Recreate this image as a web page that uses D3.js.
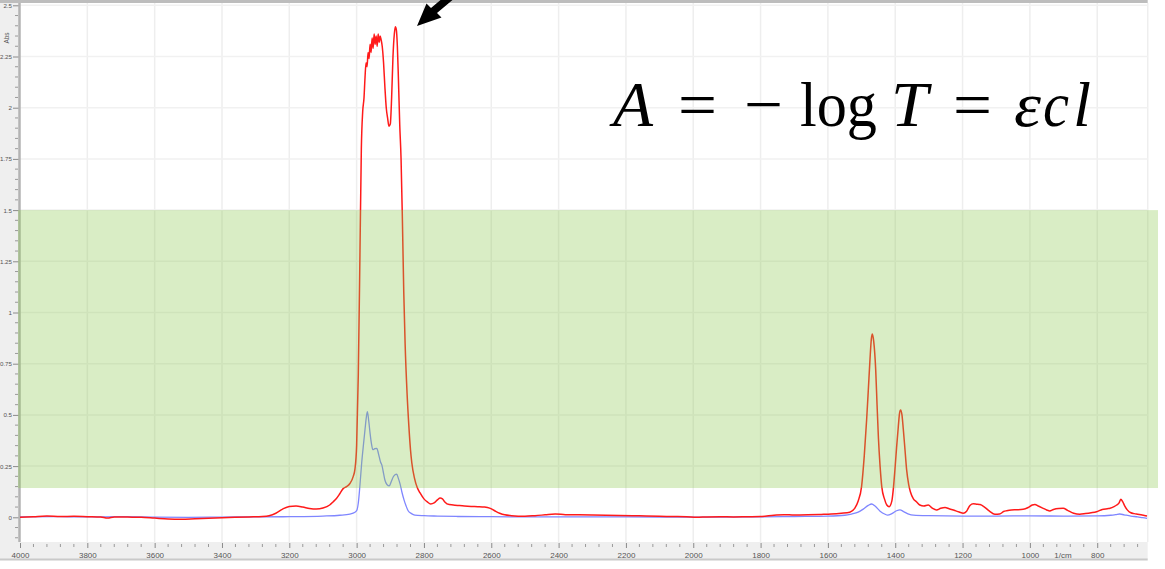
<!DOCTYPE html>
<html>
<head>
<meta charset="utf-8">
<script src="https://cdn.jsdelivr.net/npm/d3@7/dist/d3.min.js"></script>
<style>
  html, body { margin: 0; padding: 0; background: #ffffff; }
  svg { display: block; }
</style>
</head>
<body>
<svg id="chart" width="1165" height="569"></svg>
<script>
// ---------------- DATA ----------------
const xTickValues = [4000, 3800, 3600, 3400, 3200, 3000, 2800, 2600, 2400, 2200, 2000, 1800, 1600, 1400, 1200, 1000, 800];
const yTickValues = [0, 0.25, 0.5, 0.75, 1, 1.25, 1.5, 1.75, 2, 2.25, 2.5];
const yTickLabels = ["0", "0.25", "0.5", "0.75", "1", "1.25", "1.5", "1.75", "2", "2.25", "2.5"];
const bandRange = [0.143, 1.5];

const redWn = [4000,3960,3920,3880,3840,3800,3760,3740,3720,3680,3640,3600,3560,3520,3480,3440,3400,3360,3320,3280,3260,3240,3220,3200,3180,3160,3140,3120,3100,3080,3070,3060,3050,3040,3030,3020,3010,3005,3000,2995,2990,2986,2982,2978,2975,2972,2969,2966,2963,2960,2957,2954,2951,2948,2945,2942,2939,2936,2933,2930,2927,2924,2920,2916,2912,2908,2904,2900,2896,2892,2888,2885,2882,2879,2876,2872,2868,2864,2860,2856,2850,2845,2840,2836,2828,2820,2812,2800,2790,2780,2770,2760,2752,2745,2738,2725,2700,2680,2660,2640,2620,2605,2590,2575,2560,2540,2500,2470,2440,2410,2380,2340,2300,2260,2220,2180,2140,2100,2060,2020,1990,1960,1920,1880,1840,1800,1760,1730,1700,1660,1620,1590,1560,1535,1520,1510,1500,1492,1485,1480,1475,1471,1468,1464,1458,1454,1450,1445,1440,1432,1425,1418,1410,1405,1401,1396,1391,1387,1384,1380,1376,1371,1366,1360,1355,1346,1337,1327,1315,1302,1290,1277,1265,1252,1240,1225,1210,1198,1188,1178,1168,1158,1148,1135,1120,1104,1090,1078,1069,1055,1040,1020,1005,993,985,975,962,950,941,930,915,901,888,870,852,835,818,802,785,770,762,750,742,735,730,724,718,710,700,690,680,670,660,652];
const redAbs = [0.000,0.003,0.006,0.004,0.005,0.003,0.001,-0.004,0.002,0.001,0.000,-0.004,-0.008,-0.009,-0.007,-0.005,-0.002,0.000,0.002,0.004,0.008,0.020,0.040,0.053,0.055,0.050,0.043,0.040,0.045,0.060,0.075,0.092,0.115,0.140,0.150,0.165,0.200,0.235,0.35,0.70,1.30,1.80,1.98,2.05,2.15,2.22,2.20,2.27,2.24,2.31,2.27,2.34,2.29,2.36,2.31,2.35,2.30,2.36,2.32,2.35,2.33,2.30,2.22,2.10,2.00,1.95,1.91,1.92,2.05,2.25,2.36,2.395,2.38,2.30,2.15,1.92,1.75,1.45,1.10,0.85,0.60,0.45,0.33,0.265,0.19,0.145,0.12,0.09,0.075,0.065,0.07,0.085,0.094,0.09,0.075,0.062,0.058,0.055,0.053,0.052,0.050,0.045,0.032,0.020,0.012,0.008,0.005,0.008,0.012,0.016,0.013,0.012,0.011,0.010,0.009,0.008,0.006,0.005,0.004,0.003,0.000,0.002,0.003,0.002,0.003,0.004,0.010,0.013,0.011,0.012,0.014,0.016,0.020,0.025,0.045,0.08,0.15,0.30,0.475,0.62,0.77,0.87,0.895,0.86,0.72,0.55,0.39,0.25,0.15,0.09,0.06,0.052,0.08,0.15,0.23,0.34,0.44,0.51,0.524,0.50,0.43,0.33,0.23,0.16,0.125,0.09,0.076,0.060,0.055,0.060,0.045,0.036,0.044,0.048,0.042,0.034,0.026,0.020,0.030,0.058,0.066,0.064,0.062,0.050,0.030,0.015,0.016,0.028,0.032,0.036,0.037,0.039,0.048,0.060,0.063,0.055,0.045,0.036,0.031,0.038,0.043,0.044,0.034,0.020,0.015,0.018,0.022,0.027,0.038,0.042,0.044,0.052,0.060,0.070,0.088,0.075,0.055,0.035,0.022,0.018,0.015,0.012,0.009,0.006,0.003];

const blueWn = [4000,3900,3800,3700,3600,3500,3400,3300,3200,3100,3050,3020,3005,2999,2995,2990,2985,2980,2975,2971,2968,2964,2960,2956,2952,2946,2940,2935,2929,2925,2920,2916,2910,2903,2897,2891,2886,2881,2876,2871,2865,2859,2853,2847,2837,2827,2800,2760,2700,2600,2500,2400,2200,2000,1800,1700,1600,1550,1530,1510,1495,1480,1470,1460,1445,1430,1423,1410,1396,1386,1375,1360,1346,1300,1200,1100,1000,900,800,760,745,733,720,700,680,665,652];
const blueAbs = [0.002,0.003,0.002,0.003,0.001,0.000,0.001,0.002,0.003,0.006,0.010,0.016,0.025,0.036,0.07,0.16,0.265,0.35,0.43,0.49,0.516,0.47,0.41,0.36,0.33,0.335,0.337,0.31,0.27,0.255,0.215,0.182,0.16,0.153,0.175,0.198,0.208,0.211,0.19,0.163,0.12,0.084,0.055,0.032,0.018,0.011,0.008,0.006,0.004,0.003,0.002,0.002,0.002,0.001,0.002,0.004,0.006,0.010,0.016,0.025,0.040,0.058,0.065,0.055,0.030,0.015,0.011,0.018,0.032,0.036,0.028,0.016,0.011,0.008,0.006,0.006,0.007,0.006,0.007,0.010,0.013,0.016,0.012,0.006,0.002,-0.002,-0.005];

// ---------------- LAYOUT ----------------
const W = 1165, H = 569;
const plotLeft = 20, plotRight = 1147.7, plotTop = 3, plotBottom = 542;

const svg = d3.select("#chart");

const x = d3.scaleLinear().domain([4000, 650]).range([plotLeft, plotRight]);
const y = d3.scaleLinear().domain([0, 2.5]).range([517.3, 5.3]);

// backgrounds
svg.append("rect").attr("x", 0).attr("y", 0).attr("width", W).attr("height", H).attr("fill", "#ffffff");
svg.append("rect").attr("x", 0).attr("y", 3).attr("width", plotLeft - 1).attr("height", 557).attr("fill", "#efefef");
svg.append("rect").attr("x", 0).attr("y", plotBottom).attr("width", plotRight).attr("height", 17).attr("fill", "#efefef");
svg.append("line").attr("x1", 0).attr("x2", plotRight).attr("y1", 559.5).attr("y2", 559.5)
  .attr("stroke", "#c9c9c9").attr("stroke-width", 2);
svg.append("line").attr("x1", 0).attr("x2", plotRight).attr("y1", 1.5).attr("y2", 1.5)
  .attr("stroke", "#bdbdbd").attr("stroke-width", 3);

// gridlines
const grid = svg.append("g");
grid.selectAll("line.v").data(xTickValues.slice(1)).join("line")
  .attr("x1", d => x(d)).attr("x2", d => x(d)).attr("y1", plotTop).attr("y2", plotBottom)
  .attr("stroke", "#eeeeee").attr("stroke-width", 1.5);
grid.append("line").attr("x1", plotRight).attr("x2", plotRight).attr("y1", plotTop).attr("y2", plotBottom)
  .attr("stroke", "#eeeeee").attr("stroke-width", 1.5);
grid.selectAll("line.h").data(yTickValues.slice(1)).join("line")
  .attr("x1", plotLeft).attr("x2", plotRight).attr("y1", d => y(d)).attr("y2", d => y(d))
  .attr("stroke", "#f1f1f1").attr("stroke-width", 1.5);

// y axis
const yMinor = d3.range(-0.1, 2.51, 0.05).filter(v => Math.abs((v / 0.25) - Math.round(v / 0.25)) > 0.01);
const yAxisG = svg.append("g").attr("transform", `translate(${plotLeft - 1},0)`);
yAxisG.call(d3.axisLeft(y).tickValues(yTickValues).tickFormat((d, i) => yTickLabels[i]).tickSize(6).tickPadding(1))
  .call(g => g.select(".domain").remove());
yAxisG.selectAll(".tick line").attr("stroke", "#8a8a8a").attr("stroke-width", 1);
yAxisG.selectAll(".tick text").attr("fill", "#555").style("font-family", "Liberation Sans, Arial, sans-serif").style("font-size", "6.2px");
yAxisG.append("g").selectAll("line").data(yMinor).join("line")
  .attr("x1", -4).attr("x2", -1).attr("y1", d => y(d)).attr("y2", d => y(d))
  .attr("stroke", "#9a9a9a").attr("stroke-width", 1);
svg.append("line").attr("x1", plotLeft - 0.5).attr("x2", plotLeft - 0.5).attr("y1", plotTop).attr("y2", plotBottom)
  .attr("stroke", "#b3b3b3").attr("stroke-width", 2.5);
svg.append("text").attr("transform", "translate(9,38) rotate(-90)")
  .attr("text-anchor", "middle").attr("fill", "#555")
  .style("font-family", "Liberation Sans, Arial, sans-serif").style("font-size", "6.5px").text("Abs");

// x axis
const xMinor = d3.range(4000, 640, -40).filter(v => v % 200 !== 0);
const xAxisG = svg.append("g").attr("transform", `translate(0,${plotBottom + 1})`);
xAxisG.call(d3.axisBottom(x).tickValues(xTickValues).tickFormat(d3.format("d")).tickSize(5).tickPadding(4))
  .call(g => g.select(".domain").remove());
xAxisG.selectAll(".tick line").attr("stroke", "#8a8a8a");
xAxisG.selectAll(".tick text").attr("fill", "#555").style("font-family", "Liberation Sans, Arial, sans-serif").style("font-size", "8px");
xAxisG.append("g").selectAll("line").data(xMinor).join("line")
  .attr("x1", d => x(d)).attr("x2", d => x(d)).attr("y1", 1).attr("y2", 4)
  .attr("stroke", "#9a9a9a");
svg.append("text").attr("x", x(900) - 0.5).attr("y", 558).attr("text-anchor", "middle")
  .attr("fill", "#555").style("font-family", "Liberation Sans, Arial, sans-serif").style("font-size", "8px").text("1/cm");

// spectra
const redData = redWn.map((w, i) => [w, redAbs[i]]);
const blueData = blueWn.map((w, i) => [w, blueAbs[i]]);
const line = d3.line().x(d => x(d[0])).y(d => y(d[1])).curve(d3.curveMonotoneX);
svg.append("clipPath").attr("id", "pc").append("rect")
  .attr("x", plotLeft).attr("y", plotTop).attr("width", plotRight - plotLeft).attr("height", plotBottom - plotTop);
const lines = svg.append("g").attr("clip-path", "url(#pc)");
lines.append("path").datum(blueData).attr("d", line).attr("fill", "none")
  .attr("stroke", "#7f86ff").attr("stroke-width", 1.3);
lines.append("path").datum(redData).attr("d", line).attr("fill", "none")
  .attr("stroke", "#ff1a1a").attr("stroke-width", 1.5);

// green band overlay
svg.append("rect").attr("x", plotLeft - 2).attr("y", y(bandRange[1]))
  .attr("width", 1158 - (plotLeft - 2)).attr("height", y(bandRange[0]) - y(bandRange[1]))
  .attr("fill", "rgb(140,200,80)").attr("fill-opacity", 0.33);

// arrow
svg.append("path")
  .attr("d", "M417,26 L441.5,17.5 L437,13 L462,-8 L456,-13 L431,8 L426.5,3.5 Z")
  .attr("fill", "#000");

// formula
const fg = svg.append("g").style("font-family", "'Liberation Serif', 'DejaVu Serif', serif").style("font-size", "64px").attr("fill", "#000");
const parts = [
  {t: "A", x: 613, w: 40, it: true},
  {t: "=", x: 678, w: 39, it: false},
  {t: "\u2212", x: 744, w: 39, it: false},
  {t: "log", x: 800, w: 77, it: false},
  {t: "T", x: 891, w: 37, it: true},
  {t: "=", x: 953, w: 39, it: false},
  {t: "\u03b5", x: 1014, w: 27, it: true},
  {t: "c", x: 1043, w: 26, it: true},
  {t: "l", x: 1073, w: 18, it: true}
];
fg.selectAll("text").data(parts).join("text")
  .attr("x", d => d.x).attr("y", 126)
  .attr("textLength", d => d.w).attr("lengthAdjust", "spacingAndGlyphs")
  .style("font-style", d => d.it ? "italic" : "normal")
  .text(d => d.t);
</script>
</body>
</html>
